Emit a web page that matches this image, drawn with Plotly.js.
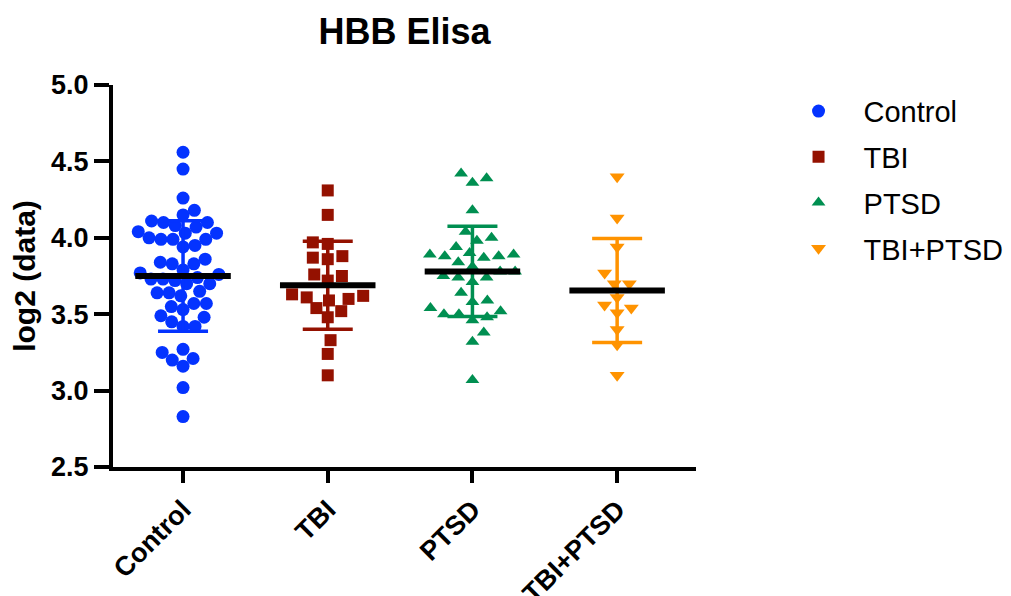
<!DOCTYPE html>
<html><head><meta charset="utf-8">
<script src="https://cdn.plot.ly/plotly-3.0.1.min.js"></script>
<style>html,body{margin:0;padding:0;background:#fff}</style>
</head><body><div id="chart" style="width:1011px;height:596px"></div>
<script>
const categories = ['Control', 'TBI', 'PTSD', 'TBI+PTSD'];
const yTickVals = [2.5, 3.0, 3.5, 4.0, 4.5, 5.0];
const yTickText = ['2.5', '3.0', '3.5', '4.0', '4.5', '5.0'];

const controlVals = [4.56, 4.45, 4.26, 4.15, 4.18, 4.10, 4.11, 4.10, 4.08, 4.07, 4.03, 4.04, 4.03,
  4.00, 3.99, 3.99, 3.99, 3.95, 3.94, 3.86, 3.83, 3.83, 3.84, 3.79, 3.76, 3.77, 3.74, 3.72, 3.70,
  3.70, 3.73, 3.73, 3.64, 3.62, 3.65, 3.64, 3.57, 3.55, 3.57, 3.53, 3.48, 3.45, 3.49, 3.42, 3.42,
  3.27, 3.21, 3.16, 3.20, 3.25, 3.02, 2.83];
const tbiVals = [4.31, 4.15, 3.97, 3.96, 3.87, 3.86, 3.88, 3.76, 3.75, 3.72, 3.63, 3.60, 3.61,
  3.59, 3.62, 3.54, 3.52, 3.48, 3.33, 3.24, 3.10];
const ptsdVals = [4.42, 4.36, 4.39, 4.18, 4.04, 3.98, 4.00, 3.94, 3.89, 3.88, 3.87, 3.90, 3.88,
  3.89, 3.84, 3.81, 3.78, 3.74, 3.74, 3.75, 3.78, 3.71, 3.64, 3.59, 3.58, 3.52, 3.50, 3.54, 3.50,
  3.46, 3.48, 3.38, 3.32, 3.07];
const comboVals = [4.40, 4.13, 3.94, 3.77, 3.70, 3.70, 3.61, 3.56, 3.54, 3.51, 3.40, 3.30, 3.10];

const meanVals = [3.75, 3.69, 3.78, 3.655];
const sdVals = [0.362, 0.288, 0.295, 0.34];

const colors = ['#0433FF', '#941100', '#008F51', '#FF9300'];
const symbols = ['circle', 'square', 'triangle-up', 'triangle-down'];
const sizes = [13, 12, 12, 13];
const groups = [controlVals, tbiVals, ptsdVals, comboVals];

const xRange = [-0.484, 3.545];
const yRange = [2.5, 5.0];
const plotW = 1011 - 113 - 315, plotH = 596 - 85 - 129;
const kx = plotW / (xRange[1] - xRange[0]);
const ky = plotH / (yRange[1] - yRange[0]);

// beeswarm layout (elliptical spacing, in pixels)
function swarm(vals, sx, sy) {
  const idx = vals.map((v, i) => i).sort((a, b) => vals[a] - vals[b]);
  const placed = [];
  const offs = new Array(vals.length);
  const hits = (c, y) => placed.some(p => ((p.x - c) / sx) ** 2 + ((p.y - y) / sy) ** 2 < 1 - 1e-6);
  for (const i of idx) {
    const y = vals[i] * ky;
    const cands = [0];
    for (const p of placed) {
      const dy = Math.abs(p.y - y);
      if (dy < sy) { const dx = sx * Math.sqrt(1 - (dy / sy) ** 2); cands.push(p.x + dx, p.x - dx); }
    }
    cands.sort((a, b) => Math.abs(a) - Math.abs(b) || (placed.length % 2 ? a - b : b - a));
    let best = 0;
    for (const c of cands) { if (!hits(c, y)) { best = c; break; } }
    placed.push({ x: best, y: y });
    offs[i] = best / kx;
  }
  return offs;
}

const traces = [];
groups.forEach((vals, g) => {
  const offs = swarm(vals, g === 0 ? 12 : 15, 14);
  traces.push({
    type: 'scatter', mode: 'markers', name: categories[g], legendgroup: 'g' + g,
    x: vals.map((v, i) => g + offs[i]), y: vals,
    marker: { symbol: symbols[g], size: sizes[g], color: colors[g], line: { width: 0 } },
    cliponaxis: false, hoverinfo: 'y'
  });
});
groups.forEach((vals, g) => {
  traces.push({
    type: 'scatter', mode: 'markers', showlegend: false,
    x: [g], y: [meanVals[g]],
    marker: { size: 1, color: 'rgba(0,0,0,0)' },
    error_y: { type: 'data', array: [sdVals[g]], visible: true, color: colors[g], thickness: 3.5, width: 25 },
    cliponaxis: false, hoverinfo: 'skip'
  });
});
groups.forEach((vals, g) => {
  traces.push({
    type: 'scatter', mode: 'lines', showlegend: false,
    x: [g - 0.33, g + 0.33], y: [meanVals[g], meanVals[g]],
    line: { color: '#000', width: 6 }, cliponaxis: false, hoverinfo: 'skip'
  });
});

const layout = {
  width: 1011, height: 596,
  margin: { l: 113, r: 315, t: 85, b: 129, autoexpand: false },
  paper_bgcolor: '#fff', plot_bgcolor: '#fff',
  font: { family: 'Arial, "Liberation Sans", sans-serif', color: '#000' },
  title: { text: 'HBB Elisa', font: { size: 36, weight: 700 }, x: 0.5, xref: 'paper', xanchor: 'center', y: 0.948, yanchor: 'middle' },
  showlegend: true,
  legend: { x: 1.133, xanchor: 'left', y: 0.998, yanchor: 'top', font: { size: 29 }, itemwidth: 80, tracegroupgap: 5, bgcolor: 'rgba(0,0,0,0)' },
  xaxis: {
    range: xRange, tickvals: [0, 1, 2, 3], ticktext: categories, tickangle: -45,
    showline: true, linewidth: 4, linecolor: '#000', ticks: 'outside', ticklen: 12, tickwidth: 4, tickcolor: '#000',
    showgrid: false, zeroline: false, tickfont: { size: 27, weight: 700 }, fixedrange: true
  },
  yaxis: {
    range: yRange, tickvals: yTickVals, ticktext: yTickText,
    showline: true, linewidth: 4, linecolor: '#000', ticks: 'outside', ticklen: 15, tickwidth: 4, tickcolor: '#000',
    showgrid: false, zeroline: false, tickfont: { size: 27, weight: 700 }, fixedrange: true,
    title: { text: 'log2 (data)', font: { size: 30, weight: 700 }, standoff: 8 }
  }
};

Plotly.newPlot('chart', traces, layout, { displayModeBar: false, staticPlot: true });
</script>
</body></html>
